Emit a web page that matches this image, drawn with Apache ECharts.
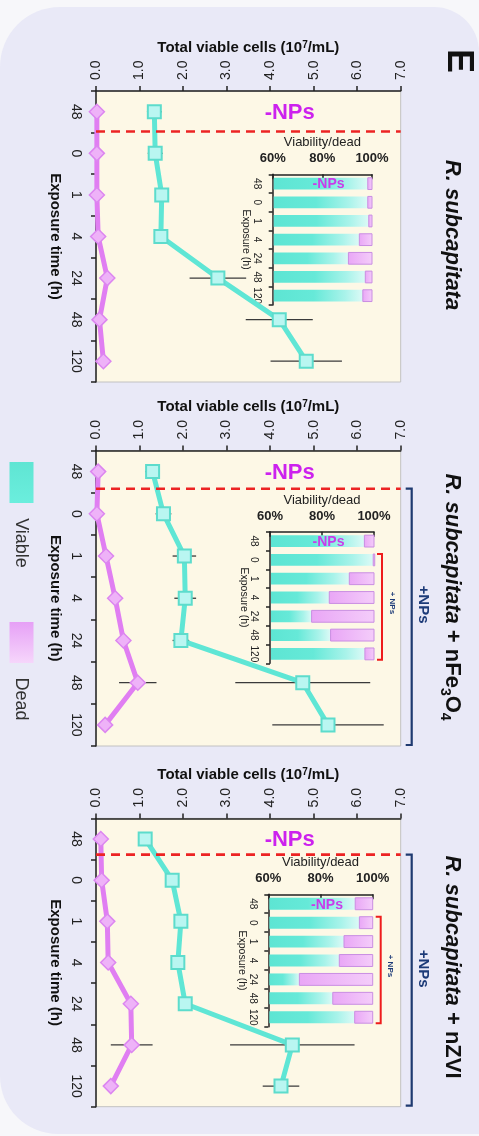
<!DOCTYPE html>
<html><head><meta charset="utf-8">
<script src="https://cdn.jsdelivr.net/npm/echarts@6/dist/echarts.min.js"></script>
<style>html,body{margin:0;padding:0;background:#f7f7fa;} #c{width:479px;height:1136px;}</style>
</head><body><div id="c"></div>
<script>
// ---------- data ----------
const timeLabels = ['48','0','1','4','24','48','120'];
const insetLabels = ['48','0','1','4','24','48','120'];
const panelTitles = [
  '{i|R. subcapitata}',
  '{i|R. subcapitata}{n| + nFe}{s|3}{n|O}{s|4}',
  '{i|R. subcapitata}{n| + nZVI}'
];
const legendNames = ['Viable', 'Dead'];

const viable1 = [1.34, 1.36, 1.51, 1.49, 2.80, 4.21, 4.83];
const viableErr1 = [0.17, 0.17, 0.06, 0.06, 0.65, 0.77, 0.82];
const dead1 = [0.02, 0.02, 0.02, 0.05, 0.26, 0.08, 0.17];
const deadErr1 = [0, 0, 0, 0, 0, 0, 0];

const viable2 = [1.30, 1.55, 2.03, 2.05, 1.95, 4.75, 5.33];
const viableErr2 = [0.17, 0.18, 0.27, 0.25, 0.19, 1.55, 1.28];
const dead2 = [0.05, 0.02, 0.23, 0.44, 0.63, 0.96, 0.21];
const deadErr2 = [0, 0, 0.05, 0.12, 0.13, 0.43, 0.05];

const viable3 = [1.13, 1.75, 1.95, 1.88, 2.05, 4.51, 4.25];
const viableErr3 = [0.05, 0.05, 0.05, 0.05, 0.05, 1.43, 0.42];
const dead3 = [0.11, 0.13, 0.26, 0.28, 0.80, 0.82, 0.34];
const deadErr3 = [0, 0, 0, 0, 0.05, 0.48, 0.05];

// viability (%) for inset bars; dead = remainder to 100 %
const viability1 = [98.3, 98.3, 98.7, 94.9, 90.5, 97.3, 96.3];
const viability2 = [96.3, 99.7, 90.5, 82.8, 76.0, 83.3, 96.5];
const viability3 = [93.3, 94.9, 89.0, 87.2, 71.9, 84.7, 93.1];

// ---------- layout ----------
const FONT = "'Liberation Sans', Arial, Helvetica, sans-serif";
const CYAN = '#5fe6d5';
const VIOLET = '#e07ef2';
const panels = [
  {viable: viable1, vErr: viableErr1, dead: dead1, dErr: deadErr1, pct: viability1, plus: false,
   grid: {left: 96, top: 91, width: 304.7, height: 291},
   inset: {left: 272.7, top: 174.3, width: 99.3, height: 130.7}, titleY: 235, dashShift: 1},
  {viable: viable2, vErr: viableErr2, dead: dead2, dErr: deadErr2, pct: viability2, plus: true,
   grid: {left: 96, top: 450.5, width: 304.7, height: 295.5},
   inset: {left: 270, top: 531.7, width: 104, height: 131.6}, titleY: 597, dashShift: 4},
  {viable: viable3, vErr: viableErr3, dead: dead3, dErr: deadErr3, pct: viability3, plus: true,
   grid: {left: 96, top: 818.4, width: 304.7, height: 288.3},
   inset: {left: 268.3, top: 894.3, width: 104.4, height: 132.4}, titleY: 967, dashShift: 5}
];

const grids = [], xAxes = [], yAxes = [], series = [];
const axisLineStyle = {color: '#222', width: 1.5};

function errRender(color) {
  return function (params, api) {
    const v = api.value(0), idx = api.value(1), e = api.value(2);
    if (!e) return null;
    const p1 = api.coord([v - e, idx]);
    const p2 = api.coord([v + e, idx]);
    return {type: 'line', shape: {x1: p1[0], y1: p1[1], x2: p2[0], y2: p2[1]},
      style: {stroke: color, lineWidth: 1.3}};
  };
}

panels.forEach(function (p, k) {
  const gi = grids.length;
  grids.push({left: p.grid.left, top: p.grid.top, width: p.grid.width, height: p.grid.height,
    show: true, backgroundColor: '#fdf8e6', borderColor: '#c2c2c2', borderWidth: 1,
    containLabel: false, outerBoundsMode: 'none'});
  xAxes.push({gridIndex: gi, type: 'value', position: 'top', min: 0, max: 7, interval: 1,
    name: 'Total viable cells (10{sup|7}/mL)', nameLocation: 'middle', nameGap: 36, nameMoveOverlap: false,
    nameTextStyle: {fontFamily: FONT, fontSize: 15, fontWeight: 'bold', color: '#111',
      rich: {sup: {fontFamily: FONT, fontSize: 10, fontWeight: 'bold', color: '#111', verticalAlign: 'top'}}},
    axisLine: {show: true, onZero: false, lineStyle: axisLineStyle},
    axisTick: {show: true, inside: false, length: 5, lineStyle: axisLineStyle},
    axisLabel: {rotate: -90, margin: 11, fontSize: 14, fontFamily: FONT, color: '#222',
      formatter: function (v) { return v.toFixed(1); }},
    splitLine: {show: false}});
  yAxes.push({gridIndex: gi, type: 'category', inverse: true, data: timeLabels, boundaryGap: true,
    name: 'Exposure time (h)', nameLocation: 'middle', nameGap: 33, nameRotate: -90, nameMoveOverlap: false,
    nameTextStyle: {fontFamily: FONT, fontSize: 15, fontWeight: 'bold', color: '#111'},
    axisLine: {show: true, onZero: false, lineStyle: axisLineStyle},
    axisTick: {show: true, length: 5, lineStyle: axisLineStyle},
    axisLabel: {rotate: -90, margin: 13, fontSize: 14, fontFamily: FONT, color: '#222', interval: 0}});

  series.push({type: 'custom', xAxisIndex: gi, yAxisIndex: gi, z: 3, silent: true,
    renderItem: errRender('#3a3a3a'), encode: {x: 0, y: 1},
    data: p.viable.map(function (v, i) { return [v, i, p.vErr[i]]; })});
  series.push({type: 'custom', xAxisIndex: gi, yAxisIndex: gi, z: 3, silent: true,
    renderItem: errRender('#3a3a3a'), encode: {x: 0, y: 1},
    data: p.dead.map(function (v, i) { return [v, i, p.dErr[i]]; })});
  series.push({type: 'line', name: 'Dead', xAxisIndex: gi, yAxisIndex: gi, z: 4,
    data: p.dead.map(function (v, i) { return [v, i]; }),
    symbol: 'diamond', symbolSize: 15, lineStyle: {color: VIOLET, width: 5},
    itemStyle: {color: '#eeb2f8', borderColor: '#dc86f0', borderWidth: 1.5}});
  series.push({type: 'line', name: 'Viable', xAxisIndex: gi, yAxisIndex: gi, z: 5,
    data: p.viable.map(function (v, i) { return [v, i]; }),
    symbol: 'rect', symbolSize: 13, lineStyle: {color: CYAN, width: 5},
    itemStyle: {color: '#b9f6f1', borderColor: '#5ddccc', borderWidth: 2}});

  // annotations on main panel: dashed separator, -NPs label, +NPs bracket
  series.push({type: 'custom', xAxisIndex: gi, yAxisIndex: gi, z: 6, silent: true, data: [[0, 0]],
    encode: {x: 0, y: 1},
    renderItem: function (params, api) {
      const band = api.size([0, 1])[1];
      const a = api.coord([0, 0]);
      const b = api.coord([7, 0]);
      const yDash = a[1] + band / 2 - p.dashShift;
      const children = [
        {type: 'line', shape: {x1: a[0], y1: yDash, x2: b[0], y2: yDash},
          style: {stroke: '#ec2323', lineWidth: 2.6, lineDash: [9, 6]}},
        {type: 'text', x: api.coord([4.45, 0])[0], y: a[1] + 1,
          style: {text: '-NPs', fill: '#cc22ee', font: 'bold 22px ' + FONT, align: 'center', verticalAlign: 'middle'}}
      ];
      if (p.plus) {
        const x = b[0] + 11;
        const yBot = api.coord([0, 6])[1] + band / 2 - 1;
        children.push({type: 'polyline', shape: {points: [[x - 6, yDash], [x, yDash], [x, yBot], [x - 6, yBot]]},
          style: {stroke: '#1f3a70', lineWidth: 2.2, fill: null}});
        children.push({type: 'text', x: x + 11, y: api.coord([0, 3])[1] + band * 0.15, rotation: -Math.PI / 2,
          style: {text: '+NPs', fill: '#1d3b78', font: 'bold 15px ' + FONT, align: 'center', verticalAlign: 'middle'}});
      }
      return {type: 'group', children: children};
    }});

  // ---- inset ----
  const ii = grids.length;
  grids.push({left: p.inset.left, top: p.inset.top, width: p.inset.width, height: p.inset.height,
    show: false, containLabel: false, outerBoundsMode: 'none'});
  xAxes.push({gridIndex: ii, type: 'value', position: 'top', min: 60, max: 100, interval: 20,
    name: 'Viability/dead', nameLocation: 'middle', nameGap: 25, nameMoveOverlap: false,
    nameTextStyle: {fontFamily: FONT, fontSize: 13, color: '#222'},
    axisLine: {show: true, onZero: false, lineStyle: axisLineStyle},
    axisTick: {show: true, inside: true, length: 5, lineStyle: axisLineStyle},
    axisLabel: {margin: 9, fontSize: 13, fontWeight: 'bold', fontFamily: FONT, color: '#222', formatter: '{value}%'},
    splitLine: {show: false}});
  yAxes.push({gridIndex: ii, type: 'category', inverse: true, data: insetLabels, boundaryGap: true,
    name: 'Exposure (h)', nameLocation: 'middle', nameGap: 21, nameRotate: -90, nameMoveOverlap: false,
    nameTextStyle: {fontFamily: FONT, fontSize: 10.5, color: '#222'},
    axisLine: {show: true, onZero: false, lineStyle: axisLineStyle},
    axisTick: {show: true, length: 4, lineStyle: axisLineStyle},
    axisLabel: {rotate: -90, margin: 11, fontSize: 10, fontFamily: FONT, color: '#222', interval: 0}});

  series.push({type: 'custom', xAxisIndex: ii, yAxisIndex: ii, z: 7, silent: true, encode: {x: 0, y: 1},
    data: p.pct.map(function (v, i) { return [v, i]; }),
    renderItem: function (params, api) {
      const v = api.value(0), i = api.value(1);
      const band = api.size([0, 1])[1];
      const h = band * 0.63;
      const pL = api.coord([60, i]), pV = api.coord([v, i]), pR = api.coord([100, i]);
      return {type: 'group', children: [
        {type: 'rect', shape: {x: pL[0] + 1, y: pL[1] - h / 2, width: pV[0] - pL[0] - 1, height: h},
          style: {fill: new echarts.graphic.LinearGradient(0, 0, 1, 0, [
            {offset: 0, color: '#5de5d3'}, {offset: 0.45, color: '#66e9d8'}, {offset: 0.8, color: '#a9f3ea'}, {offset: 1, color: '#dcfaf6'}])}},
        {type: 'rect', shape: {x: pV[0], y: pL[1] - h / 2, width: Math.max(pR[0] - pV[0], 1.5), height: h},
          style: {fill: new echarts.graphic.LinearGradient(0, 0, 1, 0, [
            {offset: 0, color: '#e9a6f6'}, {offset: 1, color: '#f4cdfa'}]), stroke: '#c98ee2', lineWidth: 1}}
      ]};
    }});
  series.push({type: 'custom', xAxisIndex: ii, yAxisIndex: ii, z: 8, silent: true, data: [[60, 0]], encode: {x: 0, y: 1},
    renderItem: function (params, api) {
      const band = api.size([0, 1])[1];
      const h = band * 0.63;
      const c0 = api.coord([82.5, 0]);
      const children = [{type: 'text', x: c0[0], y: c0[1] + 1,
        style: {text: '-NPs', fill: '#c93cea', font: 'bold 14px ' + FONT, align: 'center', verticalAlign: 'middle'}}];
      if (p.plus) {
        const x = api.coord([100, 0])[0] + 8;
        const yT = api.coord([100, 1])[1] - h / 2;
        const yB = api.coord([100, 6])[1] + h / 2;
        children.push({type: 'polyline', shape: {points: [[x - 5, yT], [x, yT], [x, yB], [x - 5, yB]]},
          style: {stroke: '#ee1c1c', lineWidth: 2, fill: null}});
        children.push({type: 'text', x: x + 10, y: (yT + yB) / 2 - 4, rotation: -Math.PI / 2,
          style: {text: '+ NPs', fill: '#1d3b78', font: 'bold 8px ' + FONT, align: 'center', verticalAlign: 'middle'}});
      }
      return {type: 'group', children: children};
    }});
});

// ---------- graphics: background, titles, legend ----------
const graphics = [
  {type: 'rect', z: -10, silent: true, shape: {x: 0, y: 7, width: 479, height: 1127, r: [60, 45, 0, 58]},
    style: {fill: '#e9e9f7'}},
  {type: 'text', x: 458, y: 61, rotation: -Math.PI / 2, silent: true,
    style: {text: 'E', fill: '#111', font: 'bold 36px ' + FONT, align: 'center', verticalAlign: 'middle'}}
];
const titleRich = {
  i: {fontFamily: FONT, fontSize: 22, fontWeight: 'bold', fontStyle: 'italic', color: '#111', lineHeight: 28},
  n: {fontFamily: FONT, fontSize: 22, fontWeight: 'bold', color: '#111', lineHeight: 28},
  s: {fontFamily: FONT, fontSize: 14, fontWeight: 'bold', color: '#111', lineHeight: 16, verticalAlign: 'bottom'}
};
panels.forEach(function (p, k) {
  graphics.push({type: 'text', x: 452, y: p.titleY, rotation: -Math.PI / 2, silent: true,
    style: {text: panelTitles[k], rich: titleRich, fill: '#111', font: 'bold 22px ' + FONT, align: 'center', verticalAlign: 'middle'}});
});
graphics.push({type: 'rect', silent: true, shape: {x: 9.5, y: 462, width: 24, height: 41},
  style: {fill: new echarts.graphic.LinearGradient(0, 0, 0, 1, [{offset: 0, color: '#5fe5d3'}, {offset: 1, color: '#6beedd'}])}});
graphics.push({type: 'text', x: 21, y: 543, rotation: -Math.PI / 2, silent: true,
  style: {text: legendNames[0], fill: '#333', font: '18px ' + FONT, align: 'center', verticalAlign: 'middle'}});
graphics.push({type: 'rect', silent: true, shape: {x: 9.5, y: 622, width: 24, height: 41},
  style: {fill: new echarts.graphic.LinearGradient(0, 0, 0, 1, [{offset: 0, color: '#e6a0f6'}, {offset: 1, color: '#f6d6fb'}])}});
graphics.push({type: 'text', x: 21, y: 699, rotation: -Math.PI / 2, silent: true,
  style: {text: legendNames[1], fill: '#333', font: '18px ' + FONT, align: 'center', verticalAlign: 'middle'}});

const chart = echarts.init(document.getElementById('c'), null, {renderer: 'canvas', width: 479, height: 1136});
chart.setOption({
  animation: false,
  backgroundColor: '#f7f7fa',
  textStyle: {fontFamily: FONT},
  grid: grids,
  xAxis: xAxes,
  yAxis: yAxes,
  series: series,
  graphic: graphics
});
</script>
</body></html>
